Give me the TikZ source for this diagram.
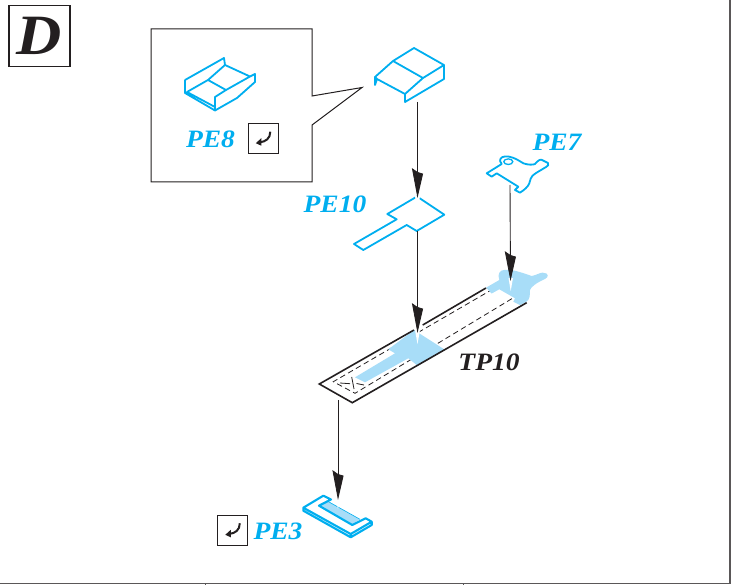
\documentclass[tikz,border=0pt]{standalone}
\usepackage{fontspec}
\usepackage{amsmath}
\usetikzlibrary{arrows.meta}
\newfontfamily\partfont[FakeStretch=1.1]{Liberation Serif}
\definecolor{partcyan}{HTML}{00AEEF}
\definecolor{partfill}{HTML}{A8DDF8}
\definecolor{inkblack}{HTML}{231F20}
\tikzset{
  partline/.style = {draw=partcyan, line width=1.8pt, line join=round},
  partlabel/.style = {partcyan, font=\partfont\fontsize{25}{25}\selectfont\bfseries\itshape, inner sep=0pt},
  plabel/.style = {inkblack, font=\partfont\fontsize{25}{25}\selectfont\bfseries\itshape, inner sep=0pt},
  leader/.style = {draw=inkblack, line width=0.9pt,
    -{Stealth[length=27pt, width=11pt, inset=1pt, slant=0.5]}},
  glow/.style = {fill=white, draw=none},
  retbox/.style = {draw=inkblack, line width=1pt, fill=white, minimum size=30pt,
    inner sep=0pt},
  framebox/.style = {draw=inkblack, line width=1pt},
  seam/.style = {draw=inkblack!75, line width=1.6pt},
  retarrow/.pic = {
    \draw[inkblack, line width=2pt] (7,-7) .. controls (7,0) and (2,3) .. (-3,3.5);
    \fill[inkblack] (-7.5,4.5) -- (-2,-0.5) -- (-2,7) -- cycle;
  }
}
\begin{document}
\begin{tikzpicture}[x=1pt,y=-1pt]
\useasboundingbox (0,0) rectangle (733,585);
% page edges
\draw[seam] (730,0) -- (730,583.5) -- (0,583.5);
\draw[seam, line width=1pt] (205,583) -- (205,585) (463,583) -- (463,585);
% title
\node[framebox, line width=1.2pt, minimum width=61pt, minimum height=61.5pt, inner sep=0pt] (title) at (39.5,36)
  {\partfont\fontsize{57}{57}\selectfont\bfseries\itshape\color{inkblack}D};
% inset
\draw[framebox, fill=white] (151,29) -- (312,29) -- (312,96) -- (362,87.5) -- (312,125) -- (312,182) -- (151,182) -- cycle;
\draw[partline] (185,80) -- (224,58) -- (225,65) -- (208,80) -- (187,92) -- (215,107)
  (185,80) -- (185,93) -- (215,110.5) -- (215,97) -- (226,90) -- (250,76.5) -- (255,74) -- (255,82) -- (237,98) -- (215,110.5)
  (225,65) -- (250,76.5) (208,80) -- (226,90);
\node[partlabel] (pe8) at (210.5,139) {PE8};
\node[retbox] (ret8) at (263.3,138.7) {};
\pic at (ret8) {retarrow};
% upper part
\coordinate (coverbase) at (417.5,102);
\draw[partline] (375,77) -- (393,61) -- (414,48) -- (444,65) -- (444,79) -- (405,102) -- (405,94) -- (377,79) -- (375,85) -- cycle
  (377,79) -- (375,77) (393,61) -- (423,78) (444,65) -- (423,78) -- (405,94);
% PE10
\draw[partline] (417,196.5) -- (444.3,214.7) -- (416.7,231) -- (406.7,225) -- (363.3,250) -- (354,244) -- (396.7,219.3) -- (387.3,214) -- cycle;
\node[partlabel] (pe10) at (335,204) {PE10};
\coordinate (slotbase) at (417.5,231);
% PE7
\draw[partline] (486.7,173.3) -- (501.7,164) .. controls (498,160) and (501,156.5) .. (505,156.5)
  .. controls (510,156) and (515,158) .. (523.3,163.3) .. controls (528,165) and (533,165) .. (535,164)
  .. controls (538,160) and (541,159) .. (542,160) -- (548,163) .. controls (549,165) and (548,166) .. (546,167)
  -- (536,173) .. controls (530,176) and (530,182) .. (529.3,183.3) .. controls (528,187) and (524,190) .. (520,192.7)
  -- (515,190) -- (518.3,186.7) -- (496.7,173.3) -- (491.7,176.7) -- cycle;
\draw[draw=partcyan, line width=1.3pt] (508.3,161.7) ellipse (4.5 and 2.8);
\node[partlabel] (pe7) at (557,142) {PE7};
\coordinate (tabbase) at (510,185);
% plate TP10
\draw[inkblack, line width=0.8pt, dash pattern=on 5.5pt off 3.5pt] (493,289) -- (333.3,381.7) -- (355,393.3) -- (513,298);
\draw[inkblack, line width=0.8pt] (340,383) -- (350,383.7) (351.7,377) -- (354,389) (356.5,383.5) -- (364,385);
\fill[partfill] (414,330) -- (444.5,349.5) -- (416.7,365) -- (408.3,358.3) -- (365,382.3) -- (355,377.3) -- (395,353.3) -- (388.3,349.3) -- cycle;
\fill[partfill] (486,287.7) -- (499.3,280) .. controls (497,274) and (500,270) .. (504,270)
  .. controls (512,269) and (520,272) .. (531.7,276) .. controls (537,275) and (541,272) .. (543,272.7)
  .. controls (549,273) and (549,277) .. (545,279) .. controls (536,283) and (531,287) .. (530,290)
  .. controls (530,295) and (530,300) .. (526,302) -- (520,305) -- (513.3,301.7) -- (515,298.3) -- (499.3,289.3) -- (491.7,293.5) -- cycle;
\draw[inkblack, line width=1.6pt, line join=miter] (414,330) -- (319.3,384) -- (352.3,402.7) -- (526.7,302.7)
  (422.7,325) -- (486,288);
\coordinate (platebase) at (338,400);
\node[plabel] (tp10) at (489,362) {TP10};
% PE3
\fill[partfill] (318.3,505) -- (326.7,500.7) -- (360,519.3) -- (352.3,524) -- cycle;
\draw[partline, line width=2.1pt] (331,499.5) -- (323.3,495.7) -- (303.3,507.7) -- (350.7,534) -- (371.7,521.7) -- (365.7,518.3) -- (352.3,525) -- (319,505.7) -- cycle
  (303.3,507.7) -- (303.3,510.7) -- (350.7,537.3) -- (371.7,525) -- (371.7,521.7) (350.7,534) -- (350.7,537.3);
\draw[draw=partcyan, line width=0.6pt] (326.7,500.7) -- (360,519.3);
\coordinate (trimtip) at (338,500);
\node[partlabel] (pe3) at (278,531) {PE3};
\node[retbox] (ret3) at (232.8,530.3) {};
\pic at (ret3) {retarrow};
% white streaks under the tips
\fill[glow] (415,196) -- (420,196) -- (417.5,212) -- cycle;
\fill[glow] (415,330) -- (420,330) -- (417.5,344) -- cycle;
\fill[glow] (508.5,278) -- (513,278) -- (510.7,291) -- cycle;
\fill[glow] (335.7,498) -- (340.2,498) -- (338,509) -- cycle;
% leaders
\coordinate (covertip) at (417.5,198);
\coordinate (slottip) at (417.5,333);
\coordinate (tabtip) at (510.5,281);
\draw[leader] (coverbase) -- (covertip);
\draw[leader] (slotbase) -- (slottip);
\draw[leader] (tabbase) -- (tabtip);
\draw[leader] (platebase) -- (trimtip);
\end{tikzpicture}
\end{document}
